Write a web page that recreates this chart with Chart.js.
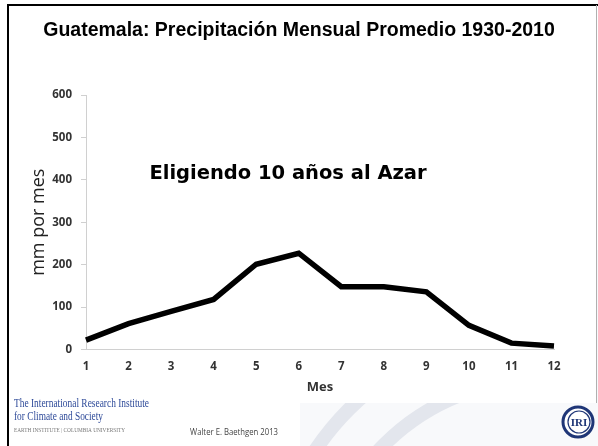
<!DOCTYPE html>
<html>
<head>
<meta charset="utf-8">
<style>
  html, body { margin: 0; padding: 0; background: #fff; }
  #wrap { position: relative; width: 598px; height: 446px; }
  canvas { display: block; }
</style>
<script src="https://cdn.jsdelivr.net/npm/chart.js@4.4.1/dist/chart.umd.min.js"></script>
</head>
<body>
<div id="wrap"><canvas id="c" width="598" height="446"></canvas></div>
<script>
const months = ['1','2','3','4','5','6','7','8','9','10','11','12'];
const precipitation = [22, 61, 90, 118, 201, 227, 148, 148, 136, 57, 15, 8];
const yTicks = [0, 100, 200, 300, 400, 500, 600];
const titleText = 'Guatemala: Precipitación Mensual Promedio 1930-2010';
const noteText = 'Eligiendo 10 años al Azar';
const yAxisTitle = 'mm por mes';
const xAxisTitle = 'Mes';
const footerLines = ['The International Research Institute', 'for Climate and Society'];
const footerSmall = 'EARTH INSTITUTE | COLUMBIA UNIVERSITY';
const authorText = 'Walter E. Baethgen 2013';

const slidePlugin = {
  id: 'slide',
  beforeDraw(chart) {
    const ctx = chart.ctx;
    ctx.save();
    ctx.fillStyle = '#ffffff';
    ctx.fillRect(0, 0, 598, 446);
    // watermark bottom area
    ctx.fillStyle = '#f8f9fb';
    ctx.fillRect(300, 403, 298, 43);
    ctx.fillRect(588, 250, 10, 196);
    ctx.strokeStyle = '#e3e6ed';
    ctx.lineWidth = 14;
    ctx.beginPath();
    ctx.arc(540, 600, 270, Math.PI * 1.0, Math.PI * 1.5);
    ctx.stroke();
    ctx.beginPath();
    ctx.arc(540, 600, 220, Math.PI * 1.0, Math.PI * 1.5);
    ctx.stroke();
    ctx.lineWidth = 10;
    ctx.beginPath();
    ctx.arc(560, 330, 90, Math.PI * 0.05, Math.PI * 0.35);
    ctx.stroke();
    // white chart box
    ctx.fillStyle = '#ffffff';
    ctx.fillRect(9, 6, 587, 397);
    // frame
    ctx.strokeStyle = '#000000';
    ctx.lineWidth = 2;
    ctx.beginPath();
    ctx.moveTo(8, 446);
    ctx.lineTo(8, 5);
    ctx.lineTo(598, 5);
    ctx.stroke();
    ctx.strokeStyle = '#b0b0b0';
    ctx.lineWidth = 1;
    ctx.beginPath();
    ctx.moveTo(596.5, 5);
    ctx.lineTo(596.5, 403);
    ctx.stroke();
    ctx.restore();
  },
  afterDraw(chart) {
    const ctx = chart.ctx;
    ctx.save();
    // title
    ctx.fillStyle = '#000000';
    ctx.textAlign = 'center';
    ctx.textBaseline = 'alphabetic';
    ctx.font = 'bold 19.5px "Liberation Sans", Arial, sans-serif';
    ctx.fillText(titleText, 299, 36, 516);
    // note
    ctx.font = 'bold 19.5px "DejaVu Sans", Verdana, sans-serif';
    ctx.fillText(noteText, 288, 179, 282);
    // footer
    ctx.textAlign = 'left';
    ctx.fillStyle = '#2e4a99';
    ctx.font = '12.5px "Liberation Serif", "Times New Roman", serif';
    ctx.fillText(footerLines[0], 14, 407, 135);
    ctx.fillText(footerLines[1], 14, 420, 89);
    ctx.fillStyle = '#777777';
    ctx.font = '7px "Liberation Serif", serif';
    ctx.fillText(footerSmall, 14, 432, 111);
    ctx.fillStyle = '#444444';
    ctx.font = '9.5px "Open Sans", sans-serif';
    ctx.fillText(authorText, 190, 435, 88);
    // IRI logo
    const cx = 578, cy = 422;
    ctx.fillStyle = '#ffffff';
    ctx.beginPath(); ctx.arc(cx, cy, 15, 0, Math.PI * 2); ctx.fill();
    ctx.strokeStyle = '#1f3677';
    ctx.lineWidth = 3;
    ctx.beginPath(); ctx.arc(cx, cy, 15, 0, Math.PI * 2); ctx.stroke();
    ctx.lineWidth = 1.2;
    ctx.beginPath(); ctx.arc(cx + 1, cy, 11, 0, Math.PI * 2); ctx.stroke();
    ctx.fillStyle = '#1f3677';
    ctx.textAlign = 'center';
    ctx.textBaseline = 'middle';
    ctx.font = 'bold 11px "Liberation Serif", serif';
    ctx.fillText('IRI', cx + 1, cy + 1);
    ctx.restore();
  }
};

new Chart(document.getElementById('c'), {
  type: 'line',
  data: {
    labels: months,
    datasets: [{
      data: precipitation,
      borderColor: '#000000',
      borderWidth: 5.5,
      pointRadius: 0,
      tension: 0,
      fill: false
    }]
  },
  options: {
    responsive: false,
    animation: false,
    events: [],
    layout: { padding: { left: 0, right: 44, top: 95, bottom: 46.5 } },
    plugins: { legend: { display: false }, title: { display: false }, tooltip: { enabled: false } },
    scales: {
      x: {
        type: 'category',
        offset: false,
        grid: { display: false, drawOnChartArea: false, drawTicks: true, tickLength: 4, color: '#d0d0d0' },
        border: { display: true, color: '#d0d0d0', width: 1 },
        ticks: {
          color: '#333333',
          padding: 6,
          maxRotation: 0,
          autoSkip: false,
          font: { family: '"Open Sans", sans-serif', size: 11.5, weight: 'bold' }
        },
        title: {
          display: true,
          text: xAxisTitle,
          color: '#333333',
          font: { family: '"Open Sans", sans-serif', size: 13, weight: 'bold' },
          padding: { top: 3, bottom: 4 }
        },
        afterFit(scale) { scale.height = 50; }
      },
      y: {
        min: 0,
        max: 600,
        afterBuildTicks(scale) { scale.ticks = yTicks.map(v => ({ value: v })); },
        grid: { display: true, drawOnChartArea: false, drawTicks: true, tickLength: 5, color: '#d0d0d0' },
        border: { display: true, color: '#d0d0d0', width: 1 },
        ticks: {
          color: '#333333',
          padding: 9,
          font: { family: '"Open Sans", sans-serif', size: 11.5, weight: 'bold' }
        },
        title: {
          display: true,
          text: yAxisTitle,
          color: '#222222',
          font: { family: '"Open Sans", sans-serif', size: 18 },
          padding: { top: 28, bottom: 0 }
        },
        afterFit(scale) { scale.width = 86; }
      }
    }
  },
  plugins: [slidePlugin]
});
</script>
</body>
</html>
